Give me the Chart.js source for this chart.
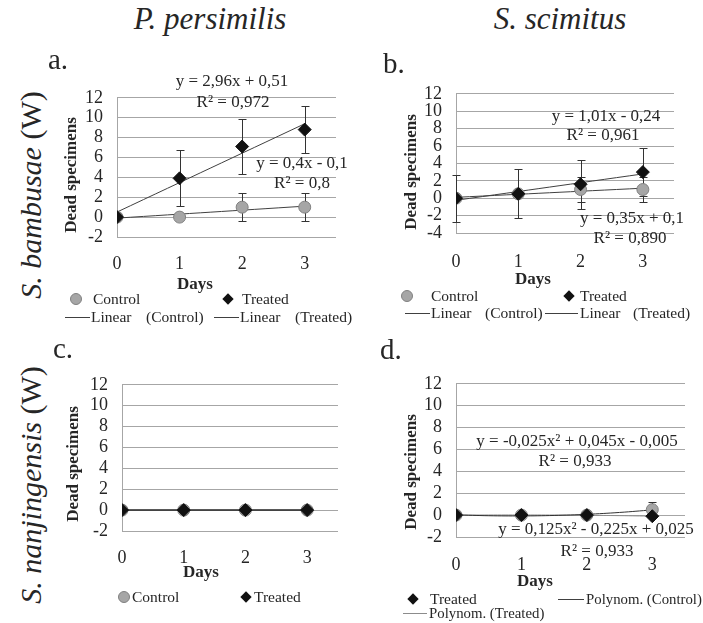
<!DOCTYPE html>
<html>
<head>
<meta charset="utf-8">
<script src="https://cdn.jsdelivr.net/npm/chart.js@4"></script>
<style>
  body { margin: 0; background: #fff; }
  #wrap { position: relative; width: 703px; height: 623px; overflow: hidden;
          font-family: "Liberation Serif", "Times New Roman", serif; color: #262626; }
  canvas { position: absolute; }
  .t { position: absolute; white-space: pre; line-height: 1; }
  .mk { position: absolute; }
</style>
</head>
<body>
<div id="wrap">
  <canvas id="chartA"></canvas>
  <canvas id="chartB"></canvas>
  <canvas id="chartC"></canvas>
  <canvas id="chartD"></canvas>
</div>
<script>
// --- DATA ---
const days = [0, 1, 2, 3];
const fitEnds = [0, 3];                 // linear trendlines run from day 0 to day 3
const fitSteps = [0, 0.5, 1, 1.5, 2, 2.5, 3];

// a. P. persimilis on S. bambusae
const aControl = [0, 0, 1, 1];
const aControlErr = [0, 0, 1.4, 1.4];
const aTreated = [0, 3.9, 7.1, 8.8];
const aTreatedErr = [0, 2.8, 2.8, 2.4];
const aControlFit = [-0.1, 1.1];
const aTreatedFit = [0.51, 9.39];

// b. S. scimitus on S. bambusae
const bControl = [0, 0.5, 1, 1];
const bControlErr = [0, 0, 1.4, 1.4];
const bTreated = [0, 0.5, 1.6, 3];
const bTreatedErr = [2.7, 2.8, 2.8, 2.8];
const bControlFit = [0.1, 1.15];
const bTreatedFit = [-0.24, 2.79];

// c. P. persimilis on S. nanjingensis
const cControl = [0, 0, 0, 0];
const cTreated = [0, 0, 0, 0];

// d. S. scimitus on S. nanjingensis
const dControl = [0, 0, 0, 0.5];
const dControlErr = [0, 0, 0, 0.7];
const dTreated = [0, 0, 0, -0.1];
const dControlFit = [0.025, -0.056, -0.075, -0.031, 0.075, 0.244, 0.475];
const dTreatedFit = [-0.005, 0.011, 0.015, 0.006, -0.015, -0.049, -0.095];

const yRangeA = [-2, 12];
const yRangeB = [-4, 12];
const yRangeC = [-2, 12];
const yRangeD = [-2, 12];

// --- HELPERS ---
const wrap = document.getElementById('wrap');
const serif = '"Liberation Serif", "Times New Roman", serif';
const tickFont = { family: serif, size: 18 };

function put(html, x, y, size, opts = {}) {
  const el = document.createElement('div');
  el.className = 't';
  el.innerHTML = html;
  el.style.left = x + 'px';
  el.style.top = y + 'px';
  el.style.fontSize = size + 'px';
  if (opts.bold) el.style.fontWeight = 'bold';
  if (opts.italic) el.style.fontStyle = 'italic';
  const tx = opts.left ? '0' : '-50%';
  el.style.transform = `translate(${tx}, -50%)` + (opts.rotate ? ' rotate(-90deg)' : '');
  wrap.appendChild(el);
}

function marker(kind, x, y, w) {
  const el = document.createElement('div');
  el.className = 'mk';
  if (kind === 'circle') {
    Object.assign(el.style, { left: (x - 6) + 'px', top: (y - 6) + 'px', width: '10px', height: '10px',
      borderRadius: '50%', background: '#a6a6a6', border: '1px solid #808080' });
  } else if (kind === 'diamond') {
    Object.assign(el.style, { left: (x - 4) + 'px', top: (y - 4) + 'px', width: '8px', height: '8px',
      background: '#111', transform: 'rotate(45deg)' });
  } else {
    Object.assign(el.style, { left: x + 'px', top: y + 'px', width: w + 'px', height: '0',
      borderTop: '1px solid ' + kind });
  }
  wrap.appendChild(el);
}

const pts = arr => days.map((d, i) => ({ x: d, y: arr[i] }));
const fitPts = (xs, ys) => xs.map((x, i) => ({ x: x, y: ys[i] }));

function controlSet(arr) {
  return { data: pts(arr), pointStyle: 'circle', pointRadius: 6, pointBackgroundColor: '#a6a6a6',
           pointBorderColor: '#808080', pointBorderWidth: 1, showLine: false, order: 1 };
}
function treatedSet(arr) {
  return { data: pts(arr), pointStyle: 'rectRot', pointRadius: 6.5, pointBackgroundColor: '#111',
           pointBorderColor: '#111', pointBorderWidth: 1, showLine: false, order: 0 };
}
function trendSet(xs, ys, color) {
  return { data: fitPts(xs, ys), showLine: true, borderColor: color, borderWidth: 1,
           pointRadius: 0, tension: 0.4, order: 2 };
}

// error bars drawn behind the markers, values come from the arrays above
function errorBars(sets) {
  return {
    id: 'errorBars',
    beforeDatasetsDraw(chart) {
      const { ctx, scales: { x, y } } = chart;
      ctx.save();
      ctx.strokeStyle = '#333';
      ctx.lineWidth = 1;
      sets.forEach(([vals, errs]) => {
        vals.forEach((v, i) => {
          if (!errs[i]) return;
          const px = Math.round(x.getPixelForValue(days[i])) + 0.5;
          const top = Math.round(y.getPixelForValue(v + errs[i])) + 0.5;
          const bot = Math.round(y.getPixelForValue(v - errs[i])) + 0.5;
          ctx.beginPath();
          ctx.moveTo(px, top); ctx.lineTo(px, bot);
          ctx.moveTo(px - 4, top); ctx.lineTo(px + 4, top);
          ctx.moveTo(px - 4, bot); ctx.lineTo(px + 4, bot);
          ctx.stroke();
        });
      });
      ctx.restore();
    }
  };
}

// box = plot area in page pixels
function makePanel(id, box, yRange, datasets, bars, xPad) {
  const cv = document.getElementById(id);
  const padTop = 15, yW = 60, xH = 40, padRight = 8;
  cv.width = box.right - box.left + yW + padRight;
  cv.height = box.bottom - box.top + padTop + xH;
  cv.style.left = (box.left - yW) + 'px';
  cv.style.top = (box.top - padTop) + 'px';
  return new Chart(cv, {
    type: 'scatter',
    data: { datasets: datasets },
    options: {
      responsive: false, animation: false, events: [], devicePixelRatio: 1,
      layout: { padding: { top: padTop, left: 0, right: padRight, bottom: 0 } },
      plugins: { legend: { display: false }, tooltip: { enabled: false } },
      scales: {
        x: {
          type: 'linear', min: 0, max: 3.5,
          grid: { display: false, drawTicks: false }, border: { display: false },
          ticks: { stepSize: 1, includeBounds: false, padding: xPad, color: '#262626', font: tickFont },
          afterFit: s => { s.height = xH; }
        },
        y: {
          min: yRange[0], max: yRange[1],
          grid: { color: '#a6a6a6', drawTicks: false },
          border: { display: true, color: '#a6a6a6' },
          ticks: { stepSize: 2, autoSkip: false, padding: 14, color: '#262626', font: tickFont },
          afterFit: s => { s.width = yW; }
        }
      }
    },
    plugins: [errorBars(bars)]
  });
}

// --- CHARTS ---
makePanel('chartA', { left: 117, right: 336, top: 88, bottom: 237 }, yRangeA, [
  treatedSet(aTreated), controlSet(aControl),
  trendSet(fitEnds, aControlFit, '#404040'), trendSet(fitEnds, aTreatedFit, '#404040')
], [[aControl, aControlErr], [aTreated, aTreatedErr]], 16);

makePanel('chartB', { left: 456, right: 674, top: 84, bottom: 233 }, yRangeB, [
  treatedSet(bTreated), controlSet(bControl),
  trendSet(fitEnds, bControlFit, '#404040'), trendSet(fitEnds, bTreatedFit, '#404040')
], [[bControl, bControlErr], [bTreated, bTreatedErr]], 18);

const cLine = treatedSet(cTreated);
cLine.showLine = true;
cLine.borderColor = '#222';
cLine.borderWidth = 1.5;
makePanel('chartC', { left: 122, right: 338, top: 375, bottom: 531 }, yRangeC, [
  cLine, controlSet(cControl)
], [], 16);

makePanel('chartD', { left: 456, right: 685, top: 374, bottom: 537 }, yRangeD, [
  treatedSet(dTreated), controlSet(dControl),
  trendSet(fitSteps, dControlFit, '#333'), trendSet(fitSteps, dTreatedFit, '#8c8c8c')
], [[dControl, dControlErr]], 17);

// --- TEXT ---
put('<i>P. persimilis</i>', 210, 18, 31);
put('<i>S. scimitus</i>', 560, 18, 31);
put('<i>S. bambusae</i> (W)', 31, 195, 30, { rotate: true });
put('<i>S. nanjingensis</i> (W)', 31, 485, 30, { rotate: true });

put('a.', 48, 59, 29, { left: true });
put('b.', 383, 63, 29, { left: true });
put('c.', 53, 348, 29, { left: true });
put('d.', 380, 349, 29, { left: true });

// axis titles
put('Dead specimens', 70, 175, 17, { bold: true, rotate: true });
put('Dead specimens', 410, 172, 17, { bold: true, rotate: true });
put('Dead specimens', 72, 464, 17, { bold: true, rotate: true });
put('Dead specimens', 410, 472, 17, { bold: true, rotate: true });
put('Days', 195, 283, 17, { bold: true });
put('Days', 533, 278, 17, { bold: true });
put('Days', 201, 571, 17, { bold: true });
put('Days', 535, 580, 17, { bold: true });

// trendline equations
put('y = 2,96x + 0,51', 232, 80, 17);
put('R² = 0,972', 233, 101, 17);
put('y = 0,4x - 0,1', 302, 162, 17);
put('R² = 0,8', 302, 182, 17);
put('y = 1,01x - 0,24', 606, 115, 17);
put('R² = 0,961', 603, 134, 17);
put('y = 0,35x + 0,1', 632, 217, 17);
put('R² = 0,890', 630, 237, 17);
put('y = -0,025x² + 0,045x - 0,005', 577, 440, 17);
put('R² = 0,933', 575, 460, 17);
put('y = 0,125x² - 0,225x + 0,025', 596, 528, 17);
put('R² = 0,933', 597, 550, 17);

// legends
const lg = 15.5;
marker('circle', 76, 299); put('Control', 93, 299, lg, { left: true });
marker('diamond', 228, 299); put('Treated', 242, 299, lg, { left: true });
marker('#404040', 65, 317, 25); put('Linear', 91, 317, lg, { left: true }); put('(Control)', 146, 317, lg, { left: true });
marker('#404040', 214, 317, 25); put('Linear', 240, 317, lg, { left: true }); put('(Treated)', 295, 317, lg, { left: true });

marker('circle', 407, 296); put('Control', 431, 296, lg, { left: true });
marker('diamond', 569, 296); put('Treated', 580, 296, lg, { left: true });
marker('#404040', 405, 313, 25); put('Linear', 431, 313, lg, { left: true }); put('(Control)', 485, 313, lg, { left: true });
marker('#404040', 545, 313, 33); put('Linear', 580, 313, lg, { left: true }); put('(Treated)', 633, 313, lg, { left: true });

marker('circle', 124, 597); put('Control', 132, 597, lg, { left: true });
marker('diamond', 246, 597); put('Treated', 254, 597, lg, { left: true });

marker('diamond', 413, 599); put('Treated', 430, 599, lg, { left: true });
marker('#404040', 558, 599, 26); put('Polynom. (Control)', 586, 599, 14.8, { left: true });
marker('#8c8c8c', 403, 613, 24); put('Polynom. (Treated)', 429, 613, 14.8, { left: true });
</script>
</body>
</html>
